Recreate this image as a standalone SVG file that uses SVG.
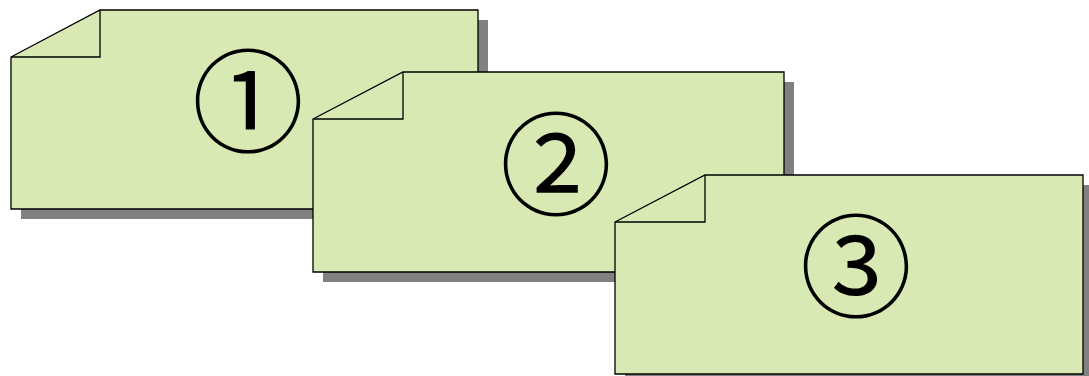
<svg xmlns="http://www.w3.org/2000/svg" width="1089" height="376" viewBox="0 0 1089 376">
  <style>
    .shadow { fill: #808080; }
    .sheet { fill: #d8e9b3; stroke: #000; stroke-width: 1.3; stroke-linejoin: miter; }
    .fold { fill: none; stroke: #000; stroke-width: 1.3; }
    .num { font-family: "Noto Sans CJK JP", "DejaVu Sans", sans-serif; font-size: 112px; text-anchor: middle; fill: #000; }
  </style>
  <g id="sheet1">
    <path class="shadow" d="M21,67 L110,20 L488,20 L488,219 L21,219 Z"/>
    <path class="sheet" d="M11,57 L100,10 L478,10 L478,209 L11,209 Z"/>
    <path class="fold" d="M11,57 L100,57 L100,10"/>
    <text class="num" x="248" y="144">①</text>
  </g>
  <g id="sheet2">
    <path class="shadow" d="M323,129 L413,82 L794,82 L794,282 L323,282 Z"/>
    <path class="sheet" d="M313,119 L403,72 L784,72 L784,272 L313,272 Z"/>
    <path class="fold" d="M313,119 L403,119 L403,72"/>
    <text class="num" x="556" y="207">②</text>
  </g>
  <g id="sheet3">
    <path class="shadow" d="M625,232 L715,185 L1093,185 L1093,384 L625,384 Z"/>
    <path class="sheet" d="M615,222 L705,175 L1083,175 L1083,374 L615,374 Z"/>
    <path class="fold" d="M615,222 L705,222 L705,175"/>
    <text class="num" x="856" y="309">③</text>
  </g>
</svg>
